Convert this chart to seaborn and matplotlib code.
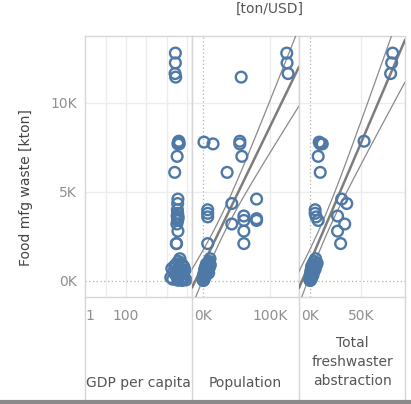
import numpy as np
import pandas as pd
import matplotlib.pyplot as plt
import seaborn as sns
from matplotlib.ticker import FuncFormatter

# food manufacturing waste [ton] per country and the three drivers
waste = [12800, 12250, 11650, 11450,
         7850, 7800, 7700, 7700, 7000, 6100,
         4600, 4350, 4000, 3800, 3600, 3650, 3500, 3400, 3200, 3400, 2800, 2100, 2100,
         1250, 1100, 1000, 950, 900, 850, 800, 750, 700, 650, 600, 550, 500,
         450, 400, 350, 300, 250, 200, 150, 120, 100, 80, 60, 40, 30]
population = [125000, 125500, 127000, 57000,
              55000, 1500, 15000, 55000, 58000, 36000,
              80000, 43000, 7000, 7000, 7000, 61000, 80000, 80000, 43000, 61000, 61000, 61000, 7000,
              10500, 9000, 8000, 5000, 11000, 6000, 4000, 9500, 3000, 7000, 2500, 5500, 2000,
              8500, 1500, 4500, 1000, 3500, 700, 2000, 500, 1200, 400, 600, 300, 800]
freshwater = [81000, 80000, 79000, np.nan,
              53000, 9000, 12000, 10000, 8000, 10000,
              31000, 36000, 5000, 5000, 6000, 27000, np.nan, 8000, 34000, np.nan, 27000, 30000, np.nan,
              5500, 4000, 7000, 3000, 2500, 6000, 1500, 4500, 2000, 5000, 1000, 3500, 800,
              2500, 1200, 3000, 600, 2000, 400, 1500, 300, 700, 200, 500, 150, 100]
gdp = [27000, 27000, 26000, 28000,
       40000, 38000, 42000, 36000, 33000, 25000,
       36000, 35000, 34000, 35000, 37000, 33000, 36000, 34000, 32000, 35000, 36000, 30000, 31000,
       45000, 38000, 52000, 30000, 60000, 25000, 70000, 42000, 18000, 35000, 80000, 48000, 22000,
       55000, 65000, 28000, 40000, 33000, 16000, 75000, 50000, 20000, 62000, 90000, 36000, 58000]

df = pd.DataFrame({"waste": waste, "population": population,
                   "freshwater": freshwater, "gdp": gdp})

sns.set_theme(style="white")
plt.rcParams['font.family'] = ['DejaVu Sans']

W, H = 411, 404
fig = plt.figure(figsize=(W / 100, H / 100), dpi=100)

blue = "#4e79a7"
tick_col = "#8f8f8f"
text_col = "#555555"
line_col = "#d6d6d6"
kfmt = FuncFormatter(lambda v, p: f"{v / 1000:.0f}K")

top, bottom = 36, 297
panels = [("gdp", 85, 192), ("population", 192, 299), ("freshwater", 299, 405)]
axes = []
for col, x0, x1 in panels:
    ax = fig.add_axes([x0 / W, (H - bottom) / H, (x1 - x0) / W, (bottom - top) / H])
    axes.append(ax)

def trend(ax, x, y, xlim):
    # linear trend with 95% confidence band
    ok = ~np.isnan(x)
    x, y = x[ok], y[ok]
    n = len(x)
    b, a = np.polyfit(x, y, 1)
    s = np.sqrt(np.sum((y - (a + b * x)) ** 2) / (n - 2))
    xs = np.linspace(xlim[0], xlim[1], 50)
    h = 2.01 * s * np.sqrt(1 / n + (xs - x.mean()) ** 2 / np.sum((x - x.mean()) ** 2))
    ax.plot(xs, a + b * xs, color="#666666", lw=1.8, alpha=0.85, zorder=3)
    ax.plot(xs, a + b * xs + h, color="#8a8a8a", lw=0.9, zorder=3)
    ax.plot(xs, a + b * xs - h, color="#8a8a8a", lw=0.9, zorder=3)

ylim = (-900, 13760)
xlims = {"gdp": (10 ** -0.02, 10 ** 5.25),
         "population": (-16400, 143300),
         "freshwater": (-10800, 93100)}

for ax, (col, x0, x1) in zip(axes, panels):
    sns.scatterplot(data=df, x=col, y="waste", ax=ax, facecolor="none",
                    edgecolor=blue, linewidth=1.7, s=60, zorder=4)
    ax.set_ylim(*ylim)
    ax.set_yticks([0, 5000, 10000])
    ax.yaxis.set_major_formatter(kfmt)
    ax.set_xlabel("")
    ax.set_ylabel("")
    for yv in [5000, 10000]:
        ax.axhline(yv, color="#ececec", lw=1, zorder=0)
    ax.axhline(0, color="#b0b0b0", lw=0.9, ls=(0, (1, 2)), zorder=1)
    if col == "gdp":
        ax.set_xscale("log")
        ax.set_xlim(*xlims[col])
        dec = [1, 10, 100, 1000, 10000, 100000]
        ax.set_xticks(dec)
        ax.set_xticklabels(["1", "", "100", "", "", ""])
        ax.minorticks_off()
        for xv in dec[1:]:
            ax.axvline(xv, color="#ececec", lw=1, zorder=0)
        ax.get_xticklabels()[0].set_ha("left")
    else:
        ax.set_xlim(*xlims[col])
        step = 100000 if col == "population" else 50000
        ax.set_xticks([0, step])
        ax.xaxis.set_major_formatter(kfmt)
        ax.axvline(step, color="#ececec", lw=1, zorder=0)
        ax.axvline(0, color="#b0b0b0", lw=0.9, ls=(0, (1, 2)), zorder=1)
        trend(ax, df[col].to_numpy(float), df["waste"].to_numpy(float), xlims[col])
    ax.tick_params(axis="x", length=0, pad=9, labelsize=10, labelcolor=tick_col)
    ax.tick_params(axis="y", length=0, pad=6, labelsize=10, labelcolor=tick_col)
    if ax is not axes[0]:
        ax.tick_params(axis="y", labelleft=False)
    for sp in ax.spines.values():
        sp.set_color(line_col)
        sp.set_linewidth(1)

axes[0].set_ylabel("Food mfg waste [kton]", fontsize=10, color="#444444")
axes[0].yaxis.set_label_coords(-(85 - 33) / 107, (bottom - 188) / (bottom - top))

# column header separators below the panes
for xp in [85, 192, 299, 405]:
    fig.add_artist(plt.Line2D([xp / W, xp / W], [(H - 400) / H, (H - bottom) / H],
                              transform=fig.transFigure, color=line_col, lw=1))
fig.add_artist(plt.Line2D([0, 1], [2.5 / H, 2.5 / H], transform=fig.transFigure,
                          color="#8a8a8a", lw=3))

fig.text(138 / W, (H - 383) / H, "GDP per capita", ha="center", va="center",
         fontsize=10, color=text_col)
fig.text(245 / W, (H - 383) / H, "Population", ha="center", va="center",
         fontsize=10, color=text_col)
fig.text(352 / W, (H - 362) / H, "Total\nfreshwaster\nabstraction", ha="center",
         va="center", fontsize=10, color=text_col, linespacing=1.45)
fig.text(270 / W, (H - 9) / H, "[ton/USD]", ha="center", va="center",
         fontsize=10, color=text_col)

fig.savefig("out.png", dpi=100)
